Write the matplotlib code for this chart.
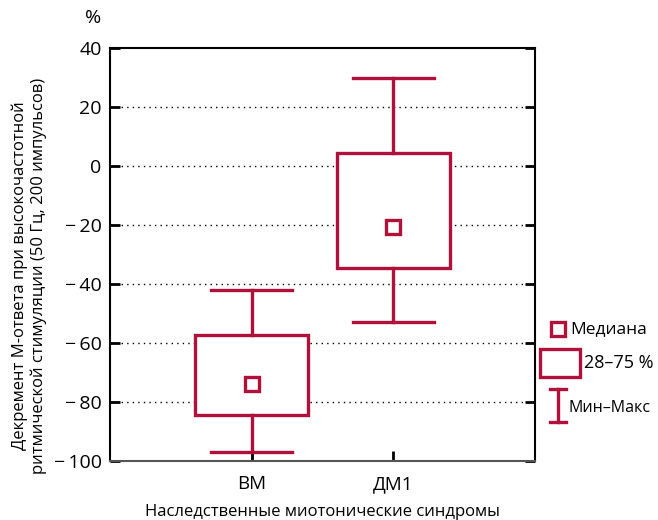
import matplotlib.pyplot as plt
from matplotlib.lines import Line2D
from matplotlib.patches import Rectangle

plt.rcParams['font.family'] = ['Open Sans', 'DejaVu Sans']

# Данные: медиана, квартили (28–75 %), мин–макс
groups = ['ВМ', 'ДМ1']
medians = [-74, -20.5]
q_low = [-84.5, -34.7]
q_high = [-57.3, 4.5]
w_min = [-97, -53]
w_max = [-42, 30]
yticks = [40, 20, 0, -20, -40, -60, -80, -100]

col = '#b0103a'
lw = 2.4

fig = plt.figure(figsize=(6.58, 5.2), dpi=100)
ax = fig.add_axes([0.167, 0.1135, 0.646, 0.794])

stats = []
for i, g in enumerate(groups):
    stats.append({'label': g, 'med': medians[i], 'q1': q_low[i], 'q3': q_high[i],
                  'whislo': w_min[i], 'whishi': w_max[i], 'fliers': []})

pos = [1, 2]
ax.bxp(stats, positions=pos, widths=0.8, capwidths=0.57, patch_artist=True,
       showfliers=False,
       boxprops=dict(facecolor='white', edgecolor=col, linewidth=lw),
       whiskerprops=dict(color=col, linewidth=lw),
       capprops=dict(color=col, linewidth=lw),
       medianprops=dict(linewidth=0))
ax.plot(pos, medians, 's', ms=9.5, mfc='white', mec=col, mew=2.4, zorder=5)

ax.set_xlim(0, 3)
ax.set_ylim(-100, 40)
ax.set_yticks(yticks)
ax.set_yticklabels([('\u2212\u2009' + str(-v)) if v < 0 else str(v) for v in yticks])
ax.set_xticks(pos)
ax.set_xticklabels(groups)
ax.tick_params(axis='y', direction='in', length=7, width=2, labelsize=14, right=True, pad=6)
ax.tick_params(axis='x', direction='in', length=7, width=2, labelsize=13.5, pad=10)
for s in ax.spines.values():
    s.set_linewidth(1.5)
ax.spines['bottom'].set_color('#555555')
for v in yticks[1:-1]:
    ax.axhline(v, color='black', lw=1, ls=(0, (1, 3)), zorder=0)

ax.set_xlabel('Наследственные миотонические синдромы', fontsize=12, labelpad=8)
fig.text(0.045, 0.47, 'Декремент М-ответа при высокочастотной\nритмической стимуляции (50 Гц, 200 импульсов)',
         rotation=90, ha='center', va='center', fontsize=12, linespacing=1.2)
fig.text(0.141, 0.965, '%', ha='center', va='center', fontsize=14)

# Легенда справа
fig.add_artist(Line2D([558 / 658], [1 - 329 / 520], marker='s', ms=9.5, mfc='white',
                      mec=col, mew=2.4, transform=fig.transFigure))
fig.text(570 / 658, 1 - 329 / 520, 'Медиана', va='center', fontsize=12.5)
fig.add_artist(Rectangle((540 / 658, 1 - 377 / 520), 40 / 658, 28 / 520, fill=False,
                         ec=col, lw=lw, transform=fig.transFigure))
fig.text(584 / 658, 1 - 363 / 520, '28–75 %', va='center', fontsize=13)
fig.add_artist(Line2D([558 / 658, 558 / 658], [1 - 389 / 520, 1 - 422 / 520], color=col,
                      lw=lw, transform=fig.transFigure))
fig.add_artist(Line2D([550 / 658, 566 / 658], [1 - 389 / 520, 1 - 389 / 520], color=col,
                      lw=lw, transform=fig.transFigure))
fig.add_artist(Line2D([550 / 658, 566 / 658], [1 - 422 / 520, 1 - 422 / 520], color=col,
                      lw=lw, transform=fig.transFigure))
fig.text(569 / 658, 1 - 408 / 520, 'Мин–Макс', va='center', fontsize=11.5)

fig.savefig('out.png', dpi=100)
